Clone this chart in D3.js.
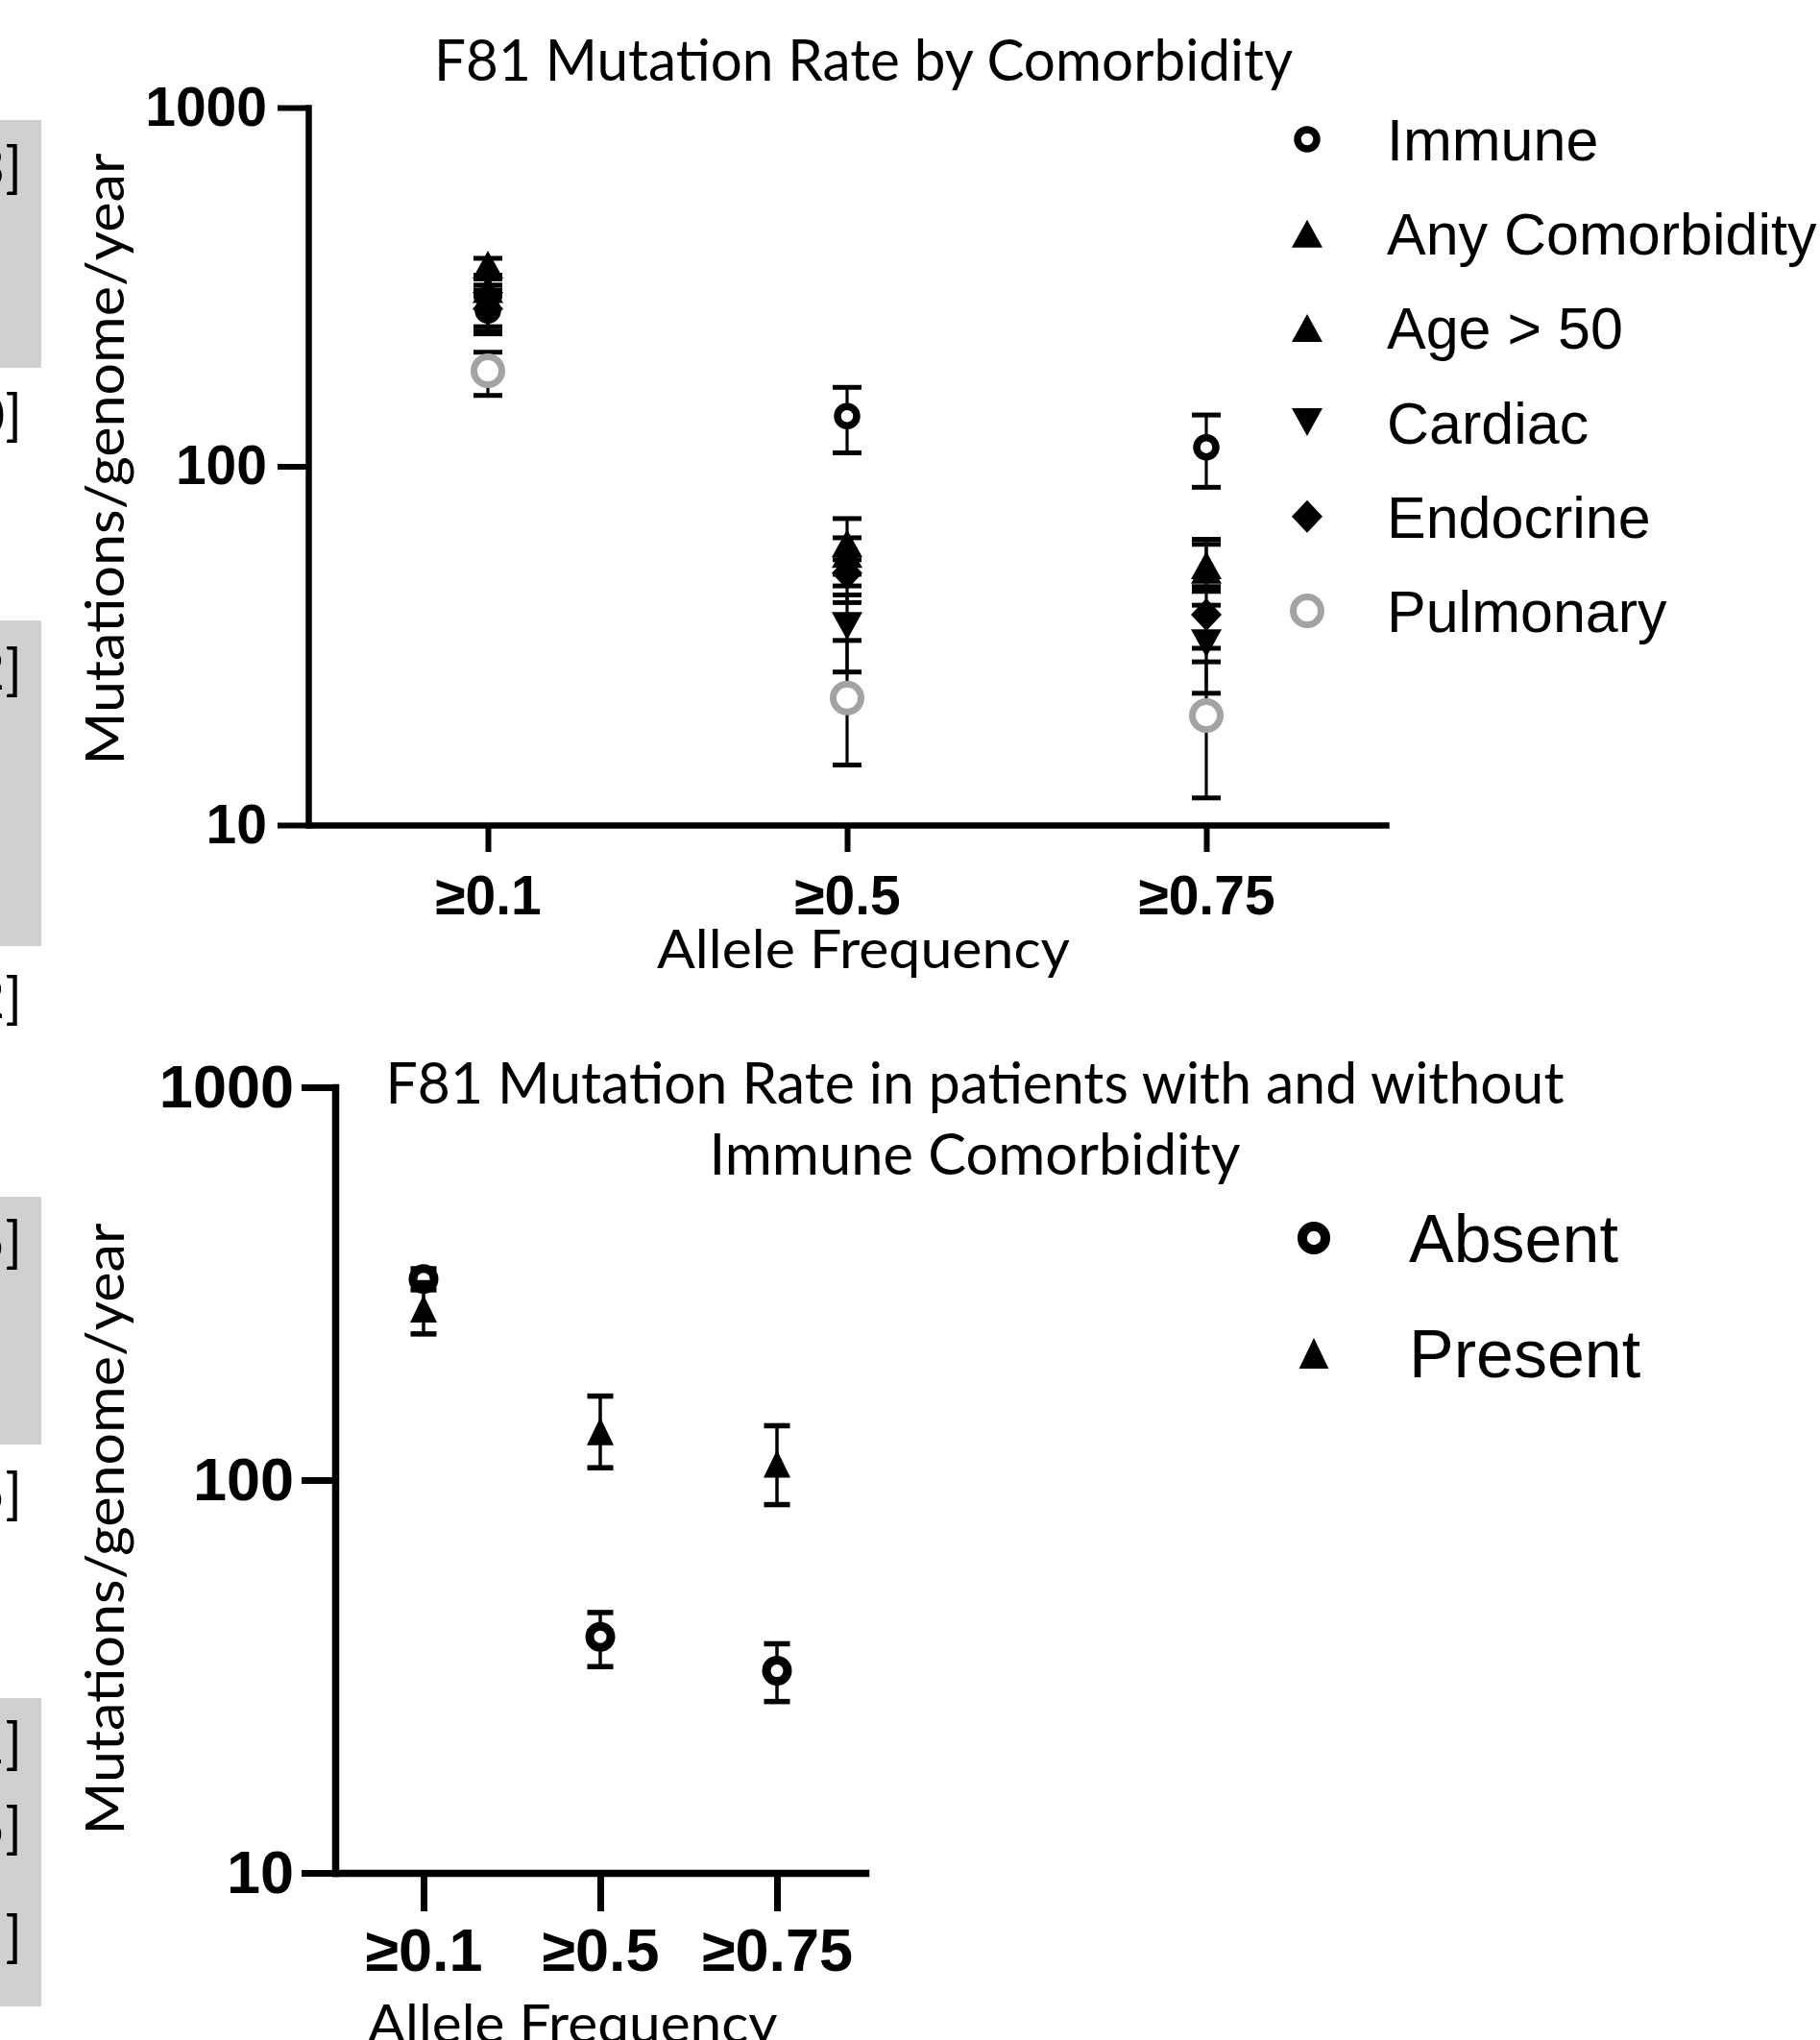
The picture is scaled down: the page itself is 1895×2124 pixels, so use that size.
<!DOCTYPE html>
<html>
<head>
<meta charset="utf-8">
<script src="https://cdn.jsdelivr.net/npm/d3@7"></script>
<style>
body { margin: 0; background: #fff; }
svg { display: block; }
</style>
</head>
<body>
<div id="chart"></div>
<script>
// ---- data ----
var categories = ["≥0.1", "≥0.5", "≥0.75"];
var yTicks = [10, 100, 1000];

// top panel: rate by comorbidity (mean, lower and upper end of error bar)
var immuneRate = [272, 138, 113];
var immuneLow = [238, 109, 87.4];
var immuneHigh = [310, 166, 139];

var anyRate = [365, 61, 53];
var anyLow = [341, 50, 44.8];
var anyHigh = [380, 71.5, 62.6];

var ageRate = [312, 57, 51.5];
var ageLow = [297, 46.4, 45.5];
var ageHigh = [333, 63.2, 60.6];

var cardiacRate = [280, 35.9, 32.1];
var cardiacLow = [234, 26.7, 23.3];
var cardiacHigh = [320, 43.8, 41];

var endocrineRate = [275, 50.4, 38.6];
var endocrineLow = [245, 41.7, 31.1];
var endocrineHigh = [300, 54.9, 46.2];

var pulmonaryRate = [184.6, 22.6, 20.2];
var pulmonaryLow = [157.6, 14.7, 11.9];
var pulmonaryHigh = [208, 32.7, 28.5];

// bottom panel: with / without immune comorbidity
var absentRate = [325, 39.9, 32.7];
var absentLow = [305, 33.5, 27.3];
var absentHigh = [345, 46.0, 38.3];

var presentRate = [273, 133, 110];
var presentLow = [235.5, 107.5, 86.6];
var presentHigh = [318, 163.6, 137.5];

// cropped table remnants on the left edge
var edgeLabels = ["3]", "0]", "2]", "2]", "5]", "5]", "1]", "5]", "]"];

var comorbidSeries = [
    {name: "Immune", kind: "ring", rate: immuneRate, low: immuneLow, high: immuneHigh},
    {name: "Any Comorbidity", kind: "up", rate: anyRate, low: anyLow, high: anyHigh},
    {name: "Age > 50", kind: "up", rate: ageRate, low: ageLow, high: ageHigh},
    {name: "Cardiac", kind: "down", rate: cardiacRate, low: cardiacLow, high: cardiacHigh},
    {name: "Endocrine", kind: "diamond", rate: endocrineRate, low: endocrineLow, high: endocrineHigh},
    {name: "Pulmonary", kind: "grayRing", rate: pulmonaryRate, low: pulmonaryLow, high: pulmonaryHigh}
];
var immuneSeries = [
    {name: "Absent", kind: "ring", rate: absentRate, low: absentLow, high: absentHigh},
    {name: "Present", kind: "up", rate: presentRate, low: presentLow, high: presentHigh}
];

var W = 1895, H = 2124;
var titleFont = "Lato, 'Open Sans', sans-serif";
var arial = "'Liberation Sans', Arial, sans-serif";

var svg = d3.select("#chart").append("svg")
    .attr("width", W).attr("height", H)
    .style("background", "#fff");

// ---- left edge fragments ----
var boxes = [[125, 383], [646, 985], [1246, 1504], [1768, 2089]];
svg.append("g").selectAll("rect").data(boxes).enter().append("rect")
    .attr("x", 0).attr("width", 43)
    .attr("y", function(d) { return d[0]; })
    .attr("height", function(d) { return d[1] - d[0]; })
    .attr("fill", "#d0d0d0");
var edgeY = [195, 453, 718, 1060, 1314, 1576, 1836, 1924, 2037];
svg.append("g").selectAll("text").data(edgeLabels).enter().append("text")
    .attr("x", 23)
    .attr("y", function(d, i) { return edgeY[i]; })
    .attr("text-anchor", "end")
    .style("font-family", titleFont)
    .style("font-size", "58px")
    .text(function(d) { return d; });

function drawMarker(g, kind, x, y, st, k) {
    k = k || 1;
    if (kind === "ring" || kind === "grayRing") {
        var gray = kind === "grayRing";
        g.append("circle").attr("cx", x).attr("cy", y)
            .attr("r", (gray ? st.grayR : st.ringR) * k)
            .attr("fill", "#fff")
            .attr("stroke", gray ? "#a3a3a3" : "#000")
            .attr("stroke-width", (gray ? st.grayW : st.ringW) * k);
        return;
    }
    var w = (kind === "diamond" ? st.diaW : st.triW) * k;
    var h = (kind === "diamond" ? st.diaH : st.triH) * k;
    var pts;
    if (kind === "up") pts = [[0, -h / 2], [w / 2, h / 2], [-w / 2, h / 2]];
    else if (kind === "down") pts = [[0, h / 2], [w / 2, -h / 2], [-w / 2, -h / 2]];
    else pts = [[0, -h / 2], [w / 2, 0], [0, h / 2], [-w / 2, 0]];
    g.append("path")
        .attr("d", d3.line()(pts) + "Z")
        .attr("transform", "translate(" + x + "," + y + ")")
        .attr("fill", "#000");
}

function drawPanel(opt) {
    var g = svg.append("g");
    var x = d3.scalePoint().domain(categories).range([opt.left, opt.right]).padding(0.5);
    var y = d3.scaleLog().domain([10, 1000]).range([opt.bottom, opt.top]);

    var yAxis = d3.axisLeft(y).tickValues(yTicks).tickFormat(d3.format("d"))
        .tickSize(opt.yTick).tickPadding(opt.yPad).tickSizeOuter(0);
    var xAxis = d3.axisBottom(x).tickSize(opt.xTick).tickPadding(opt.xPad).tickSizeOuter(0);

    var ya = g.append("g").attr("transform", "translate(" + opt.left + ",0)").call(yAxis);
    var xa = g.append("g").attr("transform", "translate(0," + opt.bottom + ")").call(xAxis);
    [ya, xa].forEach(function(a) {
        a.select(".domain").attr("stroke", "#000").attr("stroke-width", opt.axisW)
            .attr("stroke-linecap", "square");
        a.selectAll(".tick line").attr("stroke", "#000").attr("stroke-width", opt.axisW - 0.5);
        a.selectAll(".tick text").attr("fill", "#000")
            .style("font-family", arial).style("font-weight", "bold");
    });
    ya.selectAll(".tick text").style("font-size", opt.yFont + "px");
    xa.selectAll(".tick text").style("font-size", opt.xFont + "px");

    // error bars and markers, series by series
    opt.series.forEach(function(s) {
        var sg = g.append("g");
        categories.forEach(function(c, i) {
            var cx = x(c);
            sg.append("line").attr("x1", cx).attr("x2", cx)
                .attr("y1", y(s.low[i])).attr("y2", y(s.high[i]))
                .attr("stroke", "#000").attr("stroke-width", opt.st.stemW);
            [s.low[i], s.high[i]].forEach(function(v) {
                sg.append("line")
                    .attr("x1", cx - opt.st.capW / 2).attr("x2", cx + opt.st.capW / 2)
                    .attr("y1", y(v)).attr("y2", y(v))
                    .attr("stroke", "#000").attr("stroke-width", opt.st.capT);
            });
            drawMarker(sg, s.kind, cx, y(s.rate[i]), opt.st);
        });
    });

    // legend
    var lg = g.append("g");
    opt.series.forEach(function(s, i) {
        var ly = opt.legendY + i * opt.legendStep;
        drawMarker(lg, s.kind, opt.legendX, ly, opt.st, opt.legendK);
        lg.append("text").attr("x", opt.legendTextX).attr("y", ly + opt.legendFont * 0.36)
            .style("font-family", arial).style("font-size", opt.legendFont + "px")
            .text(s.name);
    });

    // titles
    opt.titles.forEach(function(t) {
        g.append("text").attr("x", t[1]).attr("y", t[2]).attr("text-anchor", "middle")
            .attr("textLength", t[3]).attr("lengthAdjust", "spacingAndGlyphs")
            .style("font-family", titleFont).style("font-size", t[4] + "px")
            .text(t[0]);
    });
    g.append("text")
        .attr("transform", "translate(" + opt.yLabelX + "," + opt.yLabelY + ") rotate(-90)")
        .attr("text-anchor", "middle")
        .attr("textLength", 637).attr("lengthAdjust", "spacingAndGlyphs")
        .style("font-family", titleFont).style("font-size", "57px")
        .text("Mutations/genome/year");
}

drawPanel({
    left: 321, right: 1443, top: 112, bottom: 859,
    yTick: 32, yPad: 11, xTick: 28, xPad: 25, axisW: 6.5,
    yFont: 57, xFont: 57,
    series: comorbidSeries,
    st: {ringR: 10, ringW: 7.5, grayR: 14.5, grayW: 7, triW: 32, triH: 29,
         diaW: 32, diaH: 34, stemW: 3.2, capW: 30, capT: 5},
    legendX: 1361, legendTextX: 1444, legendY: 145, legendStep: 98.2,
    legendFont: 61, legendK: 1,
    titles: [
        ["F81 Mutation Rate by Comorbidity", 899, 84, 894, 60],
        ["Allele Frequency", 899, 1008, 430, 57]
    ],
    yLabelX: 129, yLabelY: 478
});

drawPanel({
    left: 349, right: 901, top: 1132, bottom: 1950,
    yTick: 35, yPad: 8, xTick: 40, xPad: 17, axisW: 7.5,
    yFont: 63, xFont: 63,
    series: immuneSeries,
    st: {ringR: 11, ringW: 9, grayR: 14.5, grayW: 7, triW: 28, triH: 29,
         diaW: 30, diaH: 32, stemW: 3.5, capW: 27, capT: 5.5},
    legendX: 1368, legendTextX: 1467, legendY: 1289, legendStep: 120,
    legendFont: 70, legendK: 1.1,
    titles: [
        ["F81 Mutation Rate in patients with and without", 1015, 1149, 1227, 60],
        ["Immune Comorbidity", 1015, 1223, 553, 60],
        ["Allele Frequency", 596, 2127, 427, 57]
    ],
    yLabelX: 129, yLabelY: 1592
});
</script>
</body>
</html>
